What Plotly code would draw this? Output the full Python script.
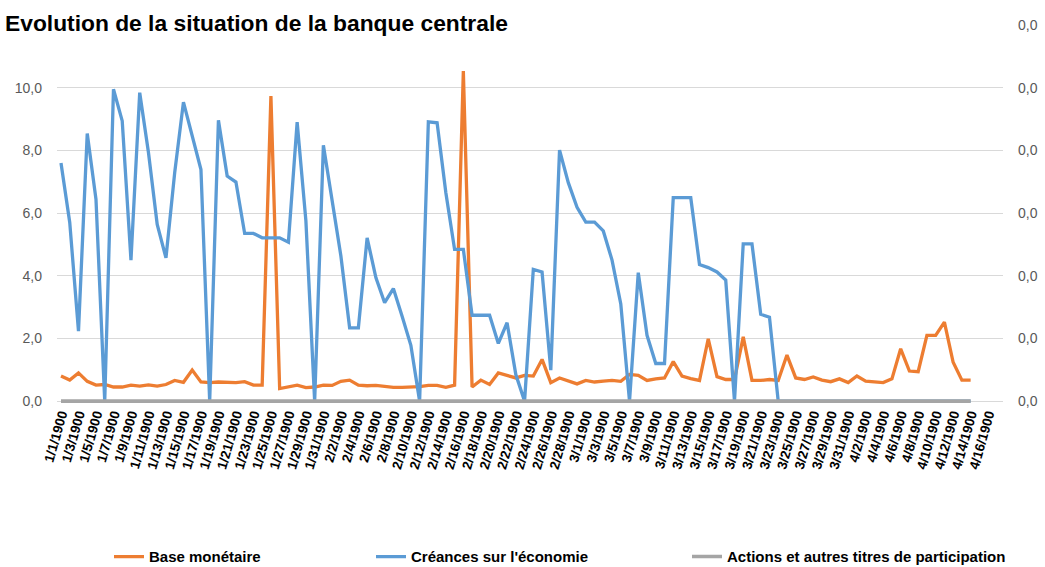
import plotly.graph_objects as go

# Daily series (1/1/1900 onwards, Excel-style calendar incl. 2/29/1900)
base_monetaire = [
    0.80, 0.67, 0.90, 0.63, 0.51, 0.53, 0.45, 0.45, 0.51, 0.48, 0.52, 0.48, 0.53, 0.66, 0.60, 0.99, 0.61, 0.59,
    0.61, 0.59, 0.59, 0.62, 0.51, 0.51, 9.73, 0.40, 0.45, 0.51, 0.43, 0.45, 0.51, 0.50, 0.63, 0.67, 0.51, 0.49,
    0.50, 0.46, 0.44, 0.44, 0.44, 0.46, 0.50, 0.50, 0.44, 0.51, 10.53, 0.45, 0.67, 0.53, 0.90, 0.82, 0.74, 0.82,
    0.80, 1.33, 0.59, 0.74, 0.64, 0.55, 0.66, 0.61, 0.64, 0.66, 0.63, 0.85, 0.82, 0.66, 0.71, 0.74, 1.26, 0.80, 0.72,
    0.66, 1.99, 0.78, 0.69, 0.69, 2.05, 0.66, 0.66, 0.69, 0.66,
    1.47, 0.74, 0.69, 0.77, 0.67, 0.62, 0.71, 0.59, 0.80, 0.64, 0.61, 0.59, 0.71, 1.67, 0.96, 0.94, 2.10, 2.10,
    2.52, 1.24, 0.67, 0.67,
]

creances_economie = [
    7.60, 5.70, 2.23, 8.54, 6.44, 0.00, 9.95, 8.94, 4.50, 9.84, 7.93, 5.64, 4.57, 7.29, 9.54, 8.46, 7.39, 0.00,
    8.96, 7.18, 6.99, 5.35, 5.35, 5.21, 5.21, 5.21, 5.07, 8.90, 5.75, 0.00, 8.16, 6.33, 4.63, 2.34, 2.34, 5.21,
    3.94, 3.14, 3.59, 2.71, 1.78, 0.00, 8.91, 8.88, 6.65, 4.84, 4.84, 2.74, 2.74, 2.74, 1.84, 2.50, 0.85, 0.00,
    4.20, 4.12, 0.99, 8.01, 6.97, 6.18, 5.71, 5.71, 5.43, 4.50, 3.10, 0.00, 4.10, 2.10, 1.20, 1.20, 6.49, 6.49, 6.49,
    4.36, 4.26, 4.12, 3.86, 0.00, 5.02, 5.02, 2.77, 2.68, 0.00,
    0.00, 0.00, 0.00, 0.00, 0.00, 0.00, 0.00, 0.00, 0.00, 0.00, 0.00, 0.00, 0.00, 0.00, 0.00, 0.00, 0.00, 0.00,
    0.00, 0.00, 0.00, 0.00,
]

actions_titres = [0.0] * 105

# Axis calendar: month number and number of days shown
months = [(1, 31), (2, 29), (3, 31), (4, 16)]
date_labels = [f"{m}/{d}/1900" for m, n in months for d in range(1, n + 1)]

days = list(range(len(base_monetaire)))
tick_idx = list(range(0, len(date_labels), 2))
tick_txt = [date_labels[i] for i in tick_idx]

ORANGE = "#ED7D31"
BLUE = "#5B9BD5"
GREY = "#A5A5A5"
FONT = "Liberation Sans"

fig = go.Figure()
fig.add_trace(go.Scatter(x=days, y=base_monetaire, mode="lines", name="Base monétaire",
                         line=dict(color=ORANGE, width=3.3), legend="legend"))
fig.add_trace(go.Scatter(x=days, y=creances_economie, mode="lines", name="Créances sur l'économie",
                         line=dict(color=BLUE, width=3.3), legend="legend2"))
fig.add_trace(go.Scatter(x=days, y=actions_titres, mode="lines",
                         name="Actions et autres titres de participation",
                         line=dict(color=GREY, width=3.6), yaxis="y2", legend="legend3"))

legend_common = dict(orientation="h", xref="container", yref="container",
                     yanchor="middle", y=0.018, xanchor="left",
                     font=dict(family=FONT, size=15, color="#000000", weight="bold"),
                     bgcolor="rgba(0,0,0,0)", tracegroupgap=0)

fig.update_layout(
    width=1045, height=567,
    margin=dict(l=57, r=42, t=25, b=164, autoexpand=False),
    paper_bgcolor="white", plot_bgcolor="white",
    separators=", ",
    showlegend=True,
    legend=dict(legend_common, x=109 / 1045),
    legend2=dict(legend_common, x=371 / 1045),
    legend3=dict(legend_common, x=687 / 1045),
    xaxis=dict(
        range=[-0.457, 107.7], tickmode="array", tickvals=tick_idx, ticktext=tick_txt,
        tickangle=-74, showgrid=False, zeroline=False, showline=False, ticks="",
        automargin=False,
        tickfont=dict(family=FONT, size=13.5, color="#000000", weight="bold"),
    ),
    yaxis=dict(
        range=[-0.06, 12], tickmode="array", tickvals=[0, 2, 4, 6, 8, 10], tickformat=".1f",
        showgrid=False, zeroline=False, showline=False, ticks="", ticklabelstandoff=14,
        automargin=False,
        tickfont=dict(family=FONT, size=14, color="#595959"),
    ),
    yaxis2=dict(
        overlaying="y", side="right", range=[-0.00006, 0.012], tickmode="linear", tick0=0,
        dtick=0.002, tickformat=".1f", showgrid=True, gridcolor="#D9D9D9", gridwidth=1,
        zeroline=False, showline=False, ticks="", ticklabelstandoff=14, automargin=False,
        tickfont=dict(family=FONT, size=14, color="#595959"),
    ),
    annotations=[dict(
        text="<b>Evolution de la situation de la banque centrale</b>",
        xref="paper", yref="paper", x=-0.058, y=1.005, xanchor="left", yanchor="middle",
        showarrow=False, bgcolor="white", borderpad=2,
        font=dict(family=FONT, size=22.8, color="#000000"),
    )],
)

fig.write_html("out.html")
